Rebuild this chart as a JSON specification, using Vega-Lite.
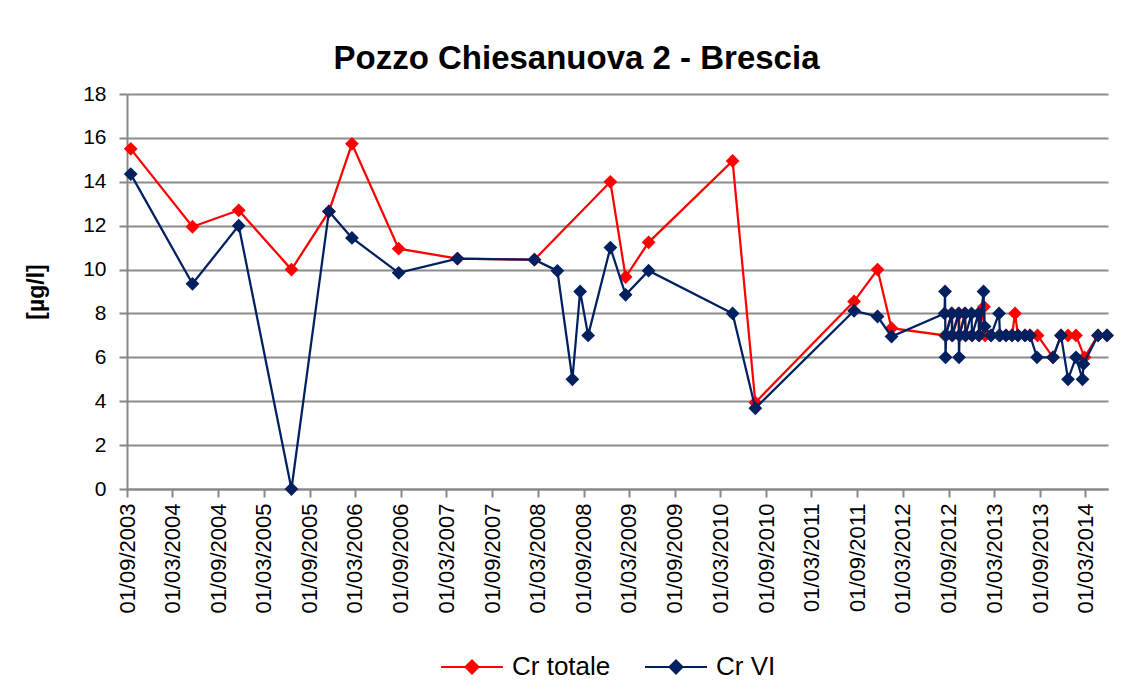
{
  "$schema": "https://vega.github.io/schema/vega-lite/v6.json",
  "autosize": {"type": "none"},
  "width": 981,
  "height": 395,
  "padding": {"left": 127, "top": 94, "right": 28, "bottom": 200},
  "background": "white",
  "title": {
    "text": "Pozzo Chiesanuova 2 - Brescia",
    "anchor": "middle",
    "dx": -41,
    "dy": 44,
    "fontSize": 33,
    "font": "Liberation Sans",
    "fontWeight": "bold",
    "color": "#000000",
    "baseline": "alphabetic",
    "offset": 25
  },
  "data": {
    "values": [
      {"date": "2003/09/16", "series": "Cr totale", "value": 15.5},
      {"date": "2004/05/20", "series": "Cr totale", "value": 11.95},
      {"date": "2004/11/21", "series": "Cr totale", "value": 12.7},
      {"date": "2005/06/20", "series": "Cr totale", "value": 10},
      {"date": "2005/11/17", "series": "Cr totale", "value": 12.65},
      {"date": "2006/02/17", "series": "Cr totale", "value": 15.73},
      {"date": "2006/08/23", "series": "Cr totale", "value": 10.95},
      {"date": "2007/04/15", "series": "Cr totale", "value": 10.5},
      {"date": "2008/02/17", "series": "Cr totale", "value": 10.45},
      {"date": "2008/12/17", "series": "Cr totale", "value": 14},
      {"date": "2009/02/16", "series": "Cr totale", "value": 9.66},
      {"date": "2009/05/19", "series": "Cr totale", "value": 11.24},
      {"date": "2010/04/20", "series": "Cr totale", "value": 14.95},
      {"date": "2010/07/20", "series": "Cr totale", "value": 3.94},
      {"date": "2011/08/19", "series": "Cr totale", "value": 8.55},
      {"date": "2011/11/21", "series": "Cr totale", "value": 10},
      {"date": "2012/01/16", "series": "Cr totale", "value": 7.33},
      {"date": "2012/08/17", "series": "Cr totale", "value": 7},
      {"date": "2012/09/14", "series": "Cr totale", "value": 8},
      {"date": "2012/09/16", "series": "Cr totale", "value": 7},
      {"date": "2012/10/12", "series": "Cr totale", "value": 8},
      {"date": "2012/10/14", "series": "Cr totale", "value": 7},
      {"date": "2012/11/05", "series": "Cr totale", "value": 8},
      {"date": "2012/11/07", "series": "Cr totale", "value": 7},
      {"date": "2012/12/03", "series": "Cr totale", "value": 7},
      {"date": "2012/12/31", "series": "Cr totale", "value": 7},
      {"date": "2013/01/20", "series": "Cr totale", "value": 8.3},
      {"date": "2013/01/24", "series": "Cr totale", "value": 7},
      {"date": "2013/02/17", "series": "Cr totale", "value": 7},
      {"date": "2013/03/21", "series": "Cr totale", "value": 7},
      {"date": "2013/04/18", "series": "Cr totale", "value": 7},
      {"date": "2013/05/12", "series": "Cr totale", "value": 7},
      {"date": "2013/05/24", "series": "Cr totale", "value": 8},
      {"date": "2013/06/05", "series": "Cr totale", "value": 7},
      {"date": "2013/07/03", "series": "Cr totale", "value": 7},
      {"date": "2013/07/23", "series": "Cr totale", "value": 7},
      {"date": "2013/08/22", "series": "Cr totale", "value": 7},
      {"date": "2013/10/23", "series": "Cr totale", "value": 6},
      {"date": "2013/11/24", "series": "Cr totale", "value": 7},
      {"date": "2013/12/22", "series": "Cr totale", "value": 7},
      {"date": "2014/01/23", "series": "Cr totale", "value": 7},
      {"date": "2014/02/26", "series": "Cr totale", "value": 6},
      {"date": "2014/04/21", "series": "Cr totale", "value": 7},
      {"date": "2014/05/27", "series": "Cr totale", "value": 7},
      {"date": "2003/09/16", "series": "Cr VI", "value": 14.35},
      {"date": "2004/05/20", "series": "Cr VI", "value": 9.35},
      {"date": "2004/11/21", "series": "Cr VI", "value": 12},
      {"date": "2005/06/20", "series": "Cr VI", "value": 0},
      {"date": "2005/11/17", "series": "Cr VI", "value": 12.65},
      {"date": "2006/02/17", "series": "Cr VI", "value": 11.44},
      {"date": "2006/08/23", "series": "Cr VI", "value": 9.85},
      {"date": "2007/04/15", "series": "Cr VI", "value": 10.5},
      {"date": "2008/02/17", "series": "Cr VI", "value": 10.45},
      {"date": "2008/05/19", "series": "Cr VI", "value": 9.94},
      {"date": "2008/07/18", "series": "Cr VI", "value": 5},
      {"date": "2008/08/18", "series": "Cr VI", "value": 9},
      {"date": "2008/09/19", "series": "Cr VI", "value": 7},
      {"date": "2008/12/17", "series": "Cr VI", "value": 11},
      {"date": "2009/02/16", "series": "Cr VI", "value": 8.85},
      {"date": "2009/05/19", "series": "Cr VI", "value": 9.95},
      {"date": "2010/04/20", "series": "Cr VI", "value": 8},
      {"date": "2010/07/20", "series": "Cr VI", "value": 3.68},
      {"date": "2011/08/19", "series": "Cr VI", "value": 8.12},
      {"date": "2011/11/21", "series": "Cr VI", "value": 7.86},
      {"date": "2012/01/16", "series": "Cr VI", "value": 6.95},
      {"date": "2012/08/15", "series": "Cr VI", "value": 8},
      {"date": "2012/08/17", "series": "Cr VI", "value": 9},
      {"date": "2012/08/19", "series": "Cr VI", "value": 6},
      {"date": "2012/08/21", "series": "Cr VI", "value": 7},
      {"date": "2012/09/12", "series": "Cr VI", "value": 8},
      {"date": "2012/09/14", "series": "Cr VI", "value": 7},
      {"date": "2012/10/10", "series": "Cr VI", "value": 8},
      {"date": "2012/10/12", "series": "Cr VI", "value": 6},
      {"date": "2012/10/14", "series": "Cr VI", "value": 7},
      {"date": "2012/11/05", "series": "Cr VI", "value": 8},
      {"date": "2012/11/07", "series": "Cr VI", "value": 7},
      {"date": "2012/12/01", "series": "Cr VI", "value": 8},
      {"date": "2012/12/03", "series": "Cr VI", "value": 7},
      {"date": "2012/12/29", "series": "Cr VI", "value": 8},
      {"date": "2012/12/31", "series": "Cr VI", "value": 7},
      {"date": "2013/01/18", "series": "Cr VI", "value": 9},
      {"date": "2013/01/22", "series": "Cr VI", "value": 7.4},
      {"date": "2013/02/17", "series": "Cr VI", "value": 7},
      {"date": "2013/03/21", "series": "Cr VI", "value": 8},
      {"date": "2013/03/25", "series": "Cr VI", "value": 7},
      {"date": "2013/04/18", "series": "Cr VI", "value": 7},
      {"date": "2013/05/12", "series": "Cr VI", "value": 7},
      {"date": "2013/06/05", "series": "Cr VI", "value": 7},
      {"date": "2013/07/03", "series": "Cr VI", "value": 7},
      {"date": "2013/07/23", "series": "Cr VI", "value": 7},
      {"date": "2013/08/20", "series": "Cr VI", "value": 6},
      {"date": "2013/10/23", "series": "Cr VI", "value": 6},
      {"date": "2013/11/24", "series": "Cr VI", "value": 7},
      {"date": "2013/12/22", "series": "Cr VI", "value": 5},
      {"date": "2014/01/23", "series": "Cr VI", "value": 6},
      {"date": "2014/02/18", "series": "Cr VI", "value": 5},
      {"date": "2014/02/22", "series": "Cr VI", "value": 5.7},
      {"date": "2014/04/21", "series": "Cr VI", "value": 7},
      {"date": "2014/05/27", "series": "Cr VI", "value": 7}
    ]
  },
  "encoding": {
    "x": {
      "field": "date",
      "type": "temporal",
      "scale": {"domain": [{"year": 2003, "month": 9, "date": 1}, {"year": 2014, "month": 5, "date": 31}]},
      "axis": {
        "title": null,
        "format": "%d/%m/%Y",
        "values": [
          {"year": 2003, "month": 9, "date": 1}, {"year": 2004, "month": 3, "date": 1},
          {"year": 2004, "month": 9, "date": 1}, {"year": 2005, "month": 3, "date": 1},
          {"year": 2005, "month": 9, "date": 1}, {"year": 2006, "month": 3, "date": 1},
          {"year": 2006, "month": 9, "date": 1}, {"year": 2007, "month": 3, "date": 1},
          {"year": 2007, "month": 9, "date": 1}, {"year": 2008, "month": 3, "date": 1},
          {"year": 2008, "month": 9, "date": 1}, {"year": 2009, "month": 3, "date": 1},
          {"year": 2009, "month": 9, "date": 1}, {"year": 2010, "month": 3, "date": 1},
          {"year": 2010, "month": 9, "date": 1}, {"year": 2011, "month": 3, "date": 1},
          {"year": 2011, "month": 9, "date": 1}, {"year": 2012, "month": 3, "date": 1},
          {"year": 2012, "month": 9, "date": 1}, {"year": 2013, "month": 3, "date": 1},
          {"year": 2013, "month": 9, "date": 1}, {"year": 2014, "month": 3, "date": 1}
        ],
        "labelAngle": -90,
        "labelAlign": "right",
        "labelBaseline": "middle",
        "labelFontSize": 22,
        "labelFont": "Liberation Sans",
        "labelColor": "#000000",
        "labelPadding": 6,
        "labelOverlap": false,
        "labelFlush": false,
        "tickSize": 8,
        "tickColor": "#878787",
        "tickWidth": 2,
        "domainColor": "#878787",
        "domainWidth": 2,
        "grid": false
      }
    },
    "y": {
      "field": "value",
      "type": "quantitative",
      "scale": {"domain": [0, 18], "nice": false, "zero": true},
      "axis": {
        "title": "[µg/l]",
        "titleFont": "Liberation Sans",
        "titleFontSize": 23,
        "titleFontWeight": "bold",
        "titleColor": "#000000",
        "titlePadding": 34,
        "values": [0, 2, 4, 6, 8, 10, 12, 14, 16, 18],
        "labelFontSize": 21,
        "labelFont": "Liberation Sans",
        "labelColor": "#000000",
        "labelPadding": 13,
        "tickSize": 8,
        "tickColor": "#878787",
        "tickWidth": 2,
        "domainColor": "#878787",
        "domainWidth": 2,
        "grid": true,
        "gridColor": "#8c8c8c",
        "gridWidth": 2
      }
    },
    "color": {
      "field": "series",
      "type": "nominal",
      "scale": {"domain": ["Cr totale", "Cr VI"], "range": ["#ff0000", "#002060"]},
      "legend": {
        "title": null,
        "orient": "none",
        "direction": "horizontal",
        "legendX": 313,
        "legendY": 541,
        "labelFont": "Liberation Sans",
        "labelFontSize": 26,
        "labelColor": "#000000",
        "symbolType": "M-1,0L1,0M-0.21,0L0,-0.21L0.21,0L0,0.21Z",
        "symbolSize": 3844,
        "symbolStrokeWidth": 2,
        "columnPadding": 30,
        "labelOffset": 8,
        "encode": {
          "symbols": {"update": {"fill": {"scale": "color", "field": "value"}, "stroke": {"scale": "color", "field": "value"}, "fillOpacity": {"value": 1}}}
        }
      }
    }
  },
  "layer": [
    {
      "transform": [{"filter": "datum.series === 'Cr totale'"}],
      "mark": {"type": "line", "strokeWidth": 2.25, "point": {"filled": true, "shape": "diamond", "size": 190, "opacity": 1}}
    },
    {
      "transform": [{"filter": "datum.series === 'Cr VI'"}],
      "mark": {"type": "line", "strokeWidth": 2.25, "point": {"filled": true, "shape": "diamond", "size": 190, "opacity": 1}}
    }
  ],
  "config": {
    "view": {"stroke": null},
    "font": "Liberation Sans"
  }
}
